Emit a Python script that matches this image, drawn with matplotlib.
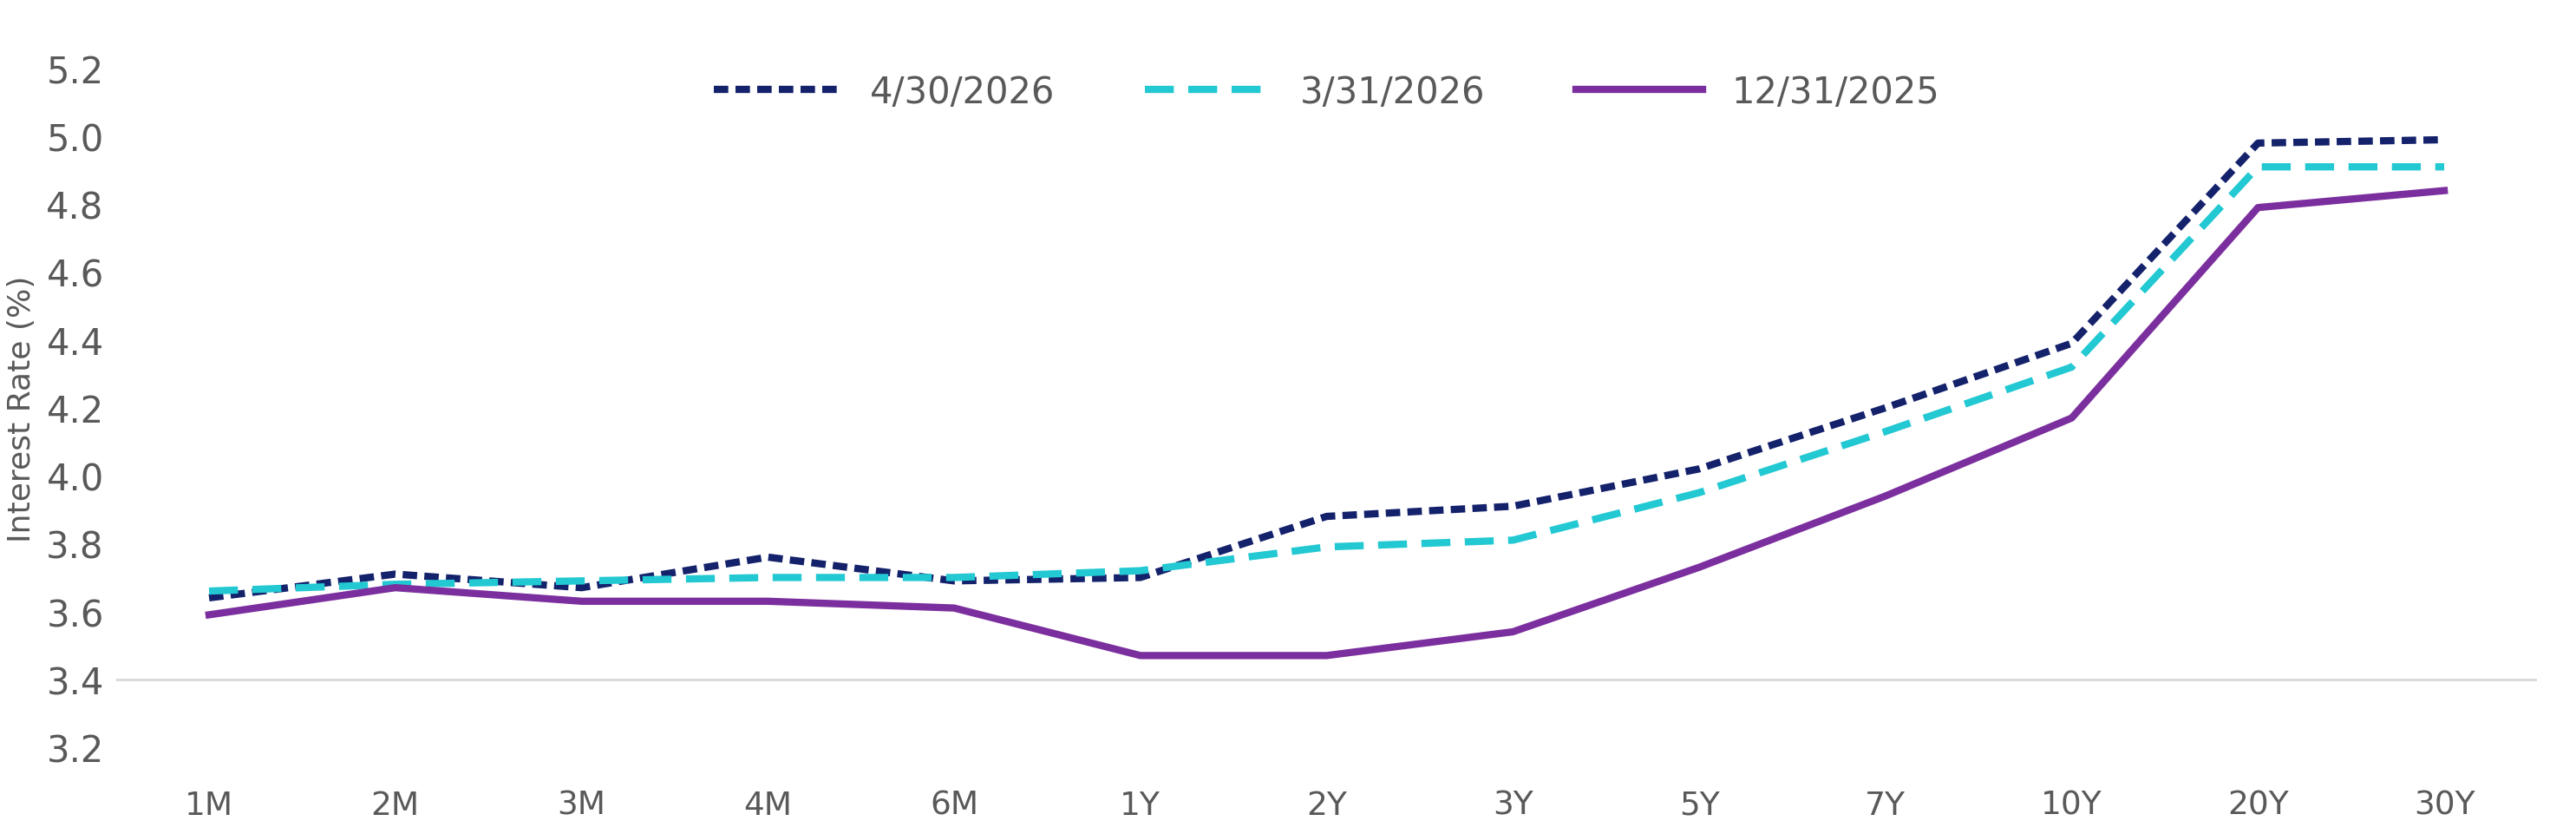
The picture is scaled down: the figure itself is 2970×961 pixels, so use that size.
import matplotlib
matplotlib.use("Agg")
import matplotlib.pyplot as plt

categories = ["1M","2M","3M","4M","6M","1Y","2Y","3Y","5Y","7Y","10Y","20Y","30Y"]
s_apr = [3.64,3.71,3.67,3.76,3.69,3.70,3.88,3.91,4.02,4.20,4.39,4.98,4.99]
s_mar = [3.66,3.68,3.69,3.70,3.70,3.72,3.79,3.81,3.95,4.13,4.32,4.91,4.91]
s_dec = [3.59,3.67,3.63,3.63,3.61,3.47,3.47,3.54,3.73,3.94,4.17,4.79,4.84]
yticks = [3.2,3.4,3.6,3.8,4.0,4.2,4.4,4.6,4.8,5.0,5.2]

fig = plt.figure(figsize=(29.7,9.62), dpi=100)
ax = fig.add_axes([0.045,0.104,0.94,0.813])
x = range(len(categories))
ax.axhline(3.4, color="#d9d9d9", lw=2, zorder=0)
ax.plot(x, s_apr, color="#14216b", lw=6, ls=(0,(2,1)), label="4/30/2026")
ax.plot(x, s_mar, color="#22c8d2", lw=6, ls=(0,(4,2)), label="3/31/2026")
ax.plot(x, s_dec, color="#7b2f9e", lw=6, label="12/31/2025")
ax.set_xlim(-0.5, len(categories)-0.5)
ax.set_ylim(3.2,5.2)
ax.set_yticks(yticks)
ax.set_yticklabels([f"{v:.1f}" for v in yticks], fontsize=30, color="#595959")
ax.set_xticks(list(x))
ax.set_xticklabels(categories, fontsize=27, color="#595959")
ax.tick_params(length=0, axis="x", pad=35)
ax.tick_params(length=0, axis="y", pad=10)
for s in ax.spines.values():
    s.set_visible(False)
ax.set_ylabel("Interest Rate (%)", fontsize=26, color="#595959", labelpad=8)
leg = ax.legend(loc="upper center", bbox_to_anchor=(0.5,1.04), ncol=3, frameon=False,
                fontsize=30, handlelength=3.5, columnspacing=2.5)
for t in leg.get_texts():
    t.set_color("#595959")
fig.savefig("out.png", dpi=100)
